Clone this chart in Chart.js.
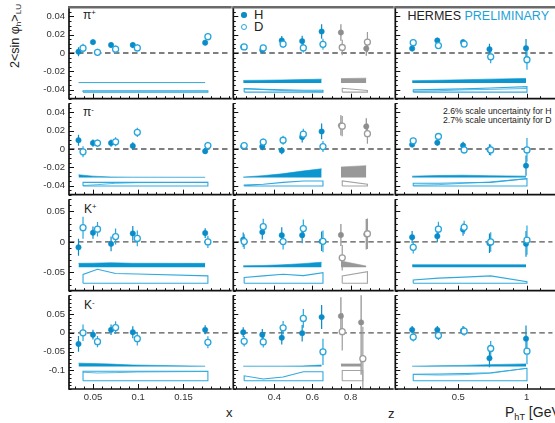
<!DOCTYPE html>
<html>
<head>
<meta charset="utf-8">
<script src="https://cdn.jsdelivr.net/npm/chart.js@4.4.1/dist/chart.umd.min.js"></script>
<style>
  html, body { margin: 0; padding: 0; overflow: hidden; }
  body { width: 555px; height: 423px; position: relative; background: #fff; font-family: "Liberation Sans", Arial, sans-serif; color: #222; }
  .panel { position: absolute; }
  .txt { position: absolute; white-space: nowrap; line-height: normal; }
  .txt sup { font-size: 65%; vertical-align: 0.55em; line-height: 0; }
  .txt sub { font-size: 65%; vertical-align: -0.3em; line-height: 0; }
  .dot { position: absolute; border-radius: 50%; box-sizing: border-box; }
</style>
</head>
<body>
<div class="txt" id="ytitle" style="left:8px; top:68px; font-size:12.5px; transform:rotate(-90deg); transform-origin:0 0;">2&lt;sin φ<sub>h</sub>&gt;<sub>LU</sub></div>

<div class="txt" style="left:83px; top:8px; font-size:12px;">π<sup>+</sup></div>
<div class="txt" style="left:83px; top:105px; font-size:12px;">π<sup>-</sup></div>
<div class="txt" style="left:84px; top:202px; font-size:12px;">K<sup>+</sup></div>
<div class="txt" style="left:84px; top:298px; font-size:12px;">K<sup>-</sup></div>

<div class="dot" style="left:241.3px; top:12.3px; width:5.4px; height:5.4px; background:#0a8cc8;"></div>
<div class="txt" style="left:254px; top:6.5px; font-size:13px;">H</div>
<div class="dot" style="left:241px; top:24.3px; width:6px; height:6px; border:1.3px solid #26a6dd; background:#fff;"></div>
<div class="txt" style="left:254px; top:19px; font-size:13px;">D</div>

<div class="txt" style="left:407.5px; top:9.3px; font-size:12.5px;"><span style="color:#222">HERMES</span> <span style="color:#1ba2d8">PRELIMINARY</span></div>

<div class="txt" style="left:443px; top:107px; font-size:8.7px; line-height:8.6px;">2.6% scale uncertainty for H<br>2.7% scale uncertainty for D</div>

<div class="txt" style="left:226px; top:405px; font-size:13px;">x</div>
<div class="txt" style="left:388px; top:406px; font-size:13px;">z</div>
<div class="txt" style="left:505px; top:404px; font-size:14px;">P<sub>hT</sub> [GeV]</div>

<script>
// axis ticks and ranges
const xTicks = [0.05, 0.1, 0.15];
const zTicks = [0.4, 0.6, 0.8];
const ptTicks = [0.5, 1];
const xRange = [0.0235, 0.2];
const zRange = [0.185, 1.01];
const ptRange = [0.04, 1.19];
const yTicks = [[-0.04, -0.02, 0, 0.02, 0.04], [-0.04, -0.02, 0, 0.02, 0.04], [-0.05, 0, 0.05], [-0.1, -0.05, 0, 0.05]];
const yRange = [[-0.05, 0.05], [-0.05, 0.05], [-0.08, 0.07], [-0.15, 0.1]];
const yMinor = [0.005, 0.005, 0.01, 0.01];

// bin centres (D slightly shifted)
const xPosH = [0.034, 0.050, 0.070, 0.094, 0.174];
const xPosD = [0.039, 0.055, 0.075, 0.099, 0.177];
const zPosH = [0.237, 0.337, 0.439, 0.546, 0.648, 0.749, 0.882];
const zPosD = [0.242, 0.342, 0.446, 0.552, 0.655, 0.756, 0.888];
const zPosKmH = [0.237, 0.337, 0.439, 0.546, 0.648, 0.749, 0.855];
const zPosKmD = [0.242, 0.342, 0.446, 0.552, 0.655, 0.756, 0.864];
const ptPosH = [0.163, 0.347, 0.535, 0.728, 0.995];
const ptPosD = [0.171, 0.355, 0.543, 0.737, 1.002];

// asymmetries, rows: pi+, pi-, K+, K-
const aH_x = [
  [0.0014, 0.0119, 0.0087, 0.0087, 0.0113],
  [0.0096, 0.0065, 0.0065, 0.0034, -0.0024],
  [-0.0088, 0.0152, -0.0031, 0.0140, 0.0146],
  [-0.0298, -0.0052, 0.0078, 0.0016, 0.0078]
];
const eH_x = [
  [0.005, 0.003, 0.003, 0.003, 0.003],
  [0.006, 0.004, 0.004, 0.004, 0.003],
  [0.014, 0.010, 0.012, 0.012, 0.008],
  [0.021, 0.013, 0.014, 0.016, 0.012]
];
const aD_x = [
  [0.0053, 0.0007, 0.0042, 0.0056, 0.0179],
  [-0.0031, 0.0065, 0.0079, 0.0182, 0.0038],
  [0.0234, 0.0209, 0.0089, 0.0058, 0.0000],
  [0.0000, -0.0236, 0.0139, -0.0157, -0.0254]
];
const eD_x = [
  [0.0047, 0.004, 0.004, 0.004, 0.004],
  [0.006, 0.004, 0.005, 0.005, 0.004],
  [0.018, 0.012, 0.013, 0.013, 0.010],
  [0.022, 0.015, 0.017, 0.018, 0.016]
];

const aH_z = [
  [0.0066, 0.0032, 0.0137, 0.0130, 0.0235, 0.0224, 0.0049],
  [0.0027, 0.0027, -0.0017, 0.0131, 0.0192, 0.0258, 0.0247],
  [0.0037, 0.0162, 0.0110, 0.0110, 0.0010, 0.0115, 0.0125],
  [0.0016, -0.0052, -0.0131, -0.0010, 0.0419, 0.0445, 0.0277]
];
const eH_z = [
  [0.003, 0.003, 0.005, 0.006, 0.008, 0.009, 0.008],
  [0.003, 0.004, 0.004, 0.006, 0.0086, 0.011, 0.009],
  [0.012, 0.012, 0.013, 0.013, 0.016, 0.018, 0.025],
  [0.013, 0.015, 0.018, 0.022, 0.032, 0.050, 0.140]
];
const aD_z = [
  [0.0066, 0.0056, 0.0098, 0.0056, 0.0095, 0.0060, 0.0119],
  [0.0038, 0.0076, 0.0096, 0.0162, 0.0027, 0.0250, 0.0168],
  [0.0006, 0.0250, 0.0006, 0.0219, 0.0010, -0.0260, 0.0135],
  [-0.0228, -0.0245, 0.0131, 0.0382, -0.0508, 0.0030, -0.0690]
];
const eD_z = [
  [0.003, 0.003, 0.004, 0.005, 0.006, 0.0085, 0.011],
  [0.003, 0.004, 0.005, 0.006, 0.006, 0.011, 0.011],
  [0.012, 0.013, 0.013, 0.015, 0.018, 0.021, 0.025],
  [0.014, 0.015, 0.018, 0.025, 0.035, 0.050, 0.085]
];

const aH_pt = [
  [0.0049, 0.0137, 0.0119, 0.0042, 0.0053],
  [0.0048, 0.0069, 0.0038, -0.0007, -0.0182],
  [0.0078, 0.0094, 0.0203, -0.0020, -0.0031],
  [0.0078, 0.0078, 0.0060, -0.0680, -0.0157]
];
const eH_pt = [
  [0.003, 0.003, 0.003, 0.006, 0.010],
  [0.003, 0.003, 0.004, 0.006, 0.011],
  [0.010, 0.010, 0.010, 0.016, 0.021],
  [0.010, 0.010, 0.012, 0.024, 0.035]
];
const aD_pt = [
  [0.0113, 0.0081, 0.0098, -0.0042, -0.0074],
  [0.0089, 0.0137, -0.0010, -0.0010, -0.0010],
  [-0.0088, 0.0210, 0.0240, 0.0000, 0.0031],
  [-0.0115, -0.0071, 0.0042, -0.0420, -0.0490]
];
const eD_pt = [
  [0.003, 0.003, 0.003, 0.007, 0.011],
  [0.003, 0.003, 0.004, 0.006, 0.013],
  [0.010, 0.012, 0.011, 0.016, 0.024],
  [0.012, 0.012, 0.012, 0.020, 0.035]
];

// systematic bands: base level per row, band height per bin
const bandBaseH = [-0.0328, -0.0312, -0.0416, -0.090];
const bandBaseD = [-0.0428, -0.0405, -0.0677, -0.1278];
const sysH_x = [
  [0.0004, 0.0004, 0.0004, 0.0004, 0.0004],
  [0.0030, 0.0015, 0.0006, 0.0004, 0.0003],
  [0.0065, 0.0068, 0.0075, 0.0066, 0.0065],
  [0.0090, 0.0080, 0.0065, 0.0040, 0.0010]
];
const sysD_x = [
  [0.0015, 0.0015, 0.0015, 0.0015, 0.0015],
  [0.0040, 0.0040, 0.0040, 0.0040, 0.0040],
  [0.0145, 0.0228, 0.0160, 0.0150, 0.0120],
  [0.0253, 0.0253, 0.0253, 0.0253, 0.0253]
];
const sysDin_x = [null, [0.0005, 0.0015, 0.0030, 0.0037, 0.0040], null, [0.0225, 0.0205, 0.0215, 0.0232, 0.0245]];
const sysH_z = [
  [0.0028, 0.0030, 0.0033, 0.0037, 0.0042, 0.0048, 0.0053],
  [0.0005, 0.0020, 0.0040, 0.0070, 0.0096, 0.0115, 0.0130],
  [0.0025, 0.0030, 0.0040, 0.0060, 0.0083, 0.0105, 0.0020],
  [0.0010, 0.0010, 0.0010, 0.0015, 0.0040, 0.0070, 0.0070]
];
const sysD_z = [
  [0.0038, 0.0030, 0.0025, 0.0020, 0.0020, 0.0042, 0.0017],
  [0.0010, 0.0020, 0.0040, 0.0055, 0.0055, 0.0055, 0.0020],
  [0.0094, 0.0120, 0.0146, 0.0125, 0.0172, 0.0120, 0.0190],
  [0.0130, 0.0044, 0.0100, 0.0240, 0.0240, 0.0270, 0.0270]
];
const sysDin_z = [[0.0038, 0.0028, 0.0018, 0.0010, 0.0005], null, null, null];
const sysH_pt = [
  [0.0025, 0.0030, 0.0035, 0.0042, 0.0050],
  [0.0015, 0.0022, 0.0025, 0.0020, 0.0015],
  [0.0042, 0.0042, 0.0042, 0.0042, 0.0042],
  [0.0010, 0.0020, 0.0030, 0.0050, 0.0070]
];
const sysD_pt = [
  [0.0025, 0.0030, 0.0035, 0.0045, 0.0060],
  [0.0030, 0.0030, 0.0035, 0.0040, 0.0080],
  [0.0052, 0.0083, 0.0099, 0.0120, 0.0026],
  [0.0170, 0.0180, 0.0190, 0.0210, 0.0330]
];
const sysDin_pt = [[0.0008, 0.0015, 0.0025, 0.0030, 0.0040], [0.0008, 0.0015, 0.0030, 0.0045, 0.0080], null, [0.0165, 0.0150, 0.0160, 0.0200, 0.0330]];

const palette = {
  blue: { h: '#0a8cc8', d: '#26a6dd', band: '#0b96cf', bandD: '#2fa9df' },
  gray: { h: '#8e8e8e', d: '#9c9c9c', band: '#989898', bandD: '#a3a3a3' }
};

const vars = [
  { posH: xPosH, posD: xPosD, aH: aH_x, eH: eH_x, aD: aD_x, eD: eD_x, sH: sysH_x, sD: sysD_x, sI: sysDin_x, ticks: xTicks, minor: 0.01, range: xRange },
  { posH: zPosH, posD: zPosD, aH: aH_z, eH: eH_z, aD: aD_z, eD: eD_z, sH: sysH_z, sD: sysD_z, sI: sysDin_z, ticks: zTicks, minor: 0.05, range: zRange },
  { posH: ptPosH, posD: ptPosD, aH: aH_pt, eH: eH_pt, aD: aD_pt, eD: eD_pt, sH: sysH_pt, sD: sysD_pt, sI: sysDin_pt, ticks: ptTicks, minor: 0.1, range: ptRange }
];

const rowTop = [5, 101, 197, 293];
const colLeft = [69, 231, 393];
const PW = 162, PH = 96;

function fmt(v) {
  return Math.abs(v) < 1e-9 ? '0' : String(+v.toFixed(3));
}

const errorBars = {
  id: 'errorBars',
  beforeDatasetsDraw(chart) {
    const { ctx, chartArea: a, scales: { x, y } } = chart;
    ctx.save();
    ctx.beginPath();
    ctx.rect(a.left, a.top, a.right - a.left, a.bottom - a.top);
    ctx.clip();
    // dashed zero line
    const y0 = y.getPixelForValue(0);
    ctx.setLineDash([5.5, 3.5]);
    ctx.strokeStyle = '#555';
    ctx.lineWidth = 1.3;
    ctx.beginPath();
    ctx.moveTo(a.left, y0);
    ctx.lineTo(a.right, y0);
    ctx.stroke();
    ctx.setLineDash([]);
    chart.data.datasets.forEach(ds => {
      if (!ds.errors) return;
      ctx.strokeStyle = ds.borderColor;
      ctx.lineWidth = 1.2;
      ds.data.forEach((p, i) => {
        const px = x.getPixelForValue(p.x);
        ctx.beginPath();
        ctx.moveTo(px, y.getPixelForValue(p.y - ds.errors[i]));
        ctx.lineTo(px, y.getPixelForValue(p.y + ds.errors[i]));
        ctx.stroke();
      });
    });
    ctx.restore();
  }
};

function drawTicks(ctx, scale, major, step, horiz, a) {
  const k0 = Math.ceil(scale.min / step - 1e-6), k1 = Math.floor(scale.max / step + 1e-6);
  for (let k = k0; k <= k1; k++) {
    const v = k * step;
    const isMajor = major.some(m => Math.abs(m - v) < step / 10);
    const len = isMajor ? 5 : 2.5;
    const p = Math.round(scale.getPixelForValue(v)) + 0.5;
    ctx.beginPath();
    if (horiz) { ctx.moveTo(p, a.bottom); ctx.lineTo(p, a.bottom - len); }
    else { ctx.moveTo(a.left, p); ctx.lineTo(a.left + len, p); }
    ctx.stroke();
  }
}

const frame = {
  id: 'frame',
  afterDatasetsDraw(chart, args, opts) {
    const { ctx, chartArea: a, scales: { x, y } } = chart;
    const v = vars[opts.c];
    ctx.save();
    ctx.strokeStyle = '#111';
    ctx.lineWidth = 1;
    drawTicks(ctx, x, v.ticks, v.minor, true, a);
    drawTicks(ctx, y, yTicks[opts.r], yMinor[opts.r], false, a);
    ctx.lineWidth = 1.7;
    ctx.beginPath();
    ctx.moveTo(a.left, a.top);
    ctx.lineTo(a.left, a.bottom);
    ctx.lineTo(a.right + 3, a.bottom);
    ctx.stroke();
    if (opts.r === 0) {
      ctx.strokeStyle = '#6a6a6a';
      ctx.lineWidth = 2.6;
      ctx.beginPath();
      ctx.moveTo(a.left - 1, a.top);
      ctx.lineTo(a.right + 3, a.top);
      ctx.stroke();
    }
    ctx.restore();
  }
};

function makePanel(r, c) {
  const v = vars[c];
  const isKmZ = (r === 3 && c === 1);
  const posH = isKmZ ? zPosKmH : v.posH;
  const posD = isKmZ ? zPosKmD : v.posD;
  const groups = c === 1 ? [[0, 1, 2, 3, 4], [5, 6]] : [[0, 1, 2, 3, 4]];
  const datasets = [];
  groups.forEach((idx, g) => {
    const col = g ? palette.gray : palette.blue;
    const first = idx[0], last = idx[idx.length - 1];
    const bH = bandBaseH[r], bD = bandBaseD[r];
    datasets.push({
      order: 3, fill: { value: bH },
      data: idx.map(i => ({ x: posH[i], y: bH + v.sH[r][i] })),
      backgroundColor: col.band, borderColor: col.band, borderWidth: 0.6, pointRadius: 0
    });
    datasets.push({
      order: 3, fill: false,
      data: [{ x: posD[first], y: bD }]
        .concat(idx.map(i => ({ x: posD[i], y: bD + v.sD[r][i] })))
        .concat([{ x: posD[last], y: bD }, { x: posD[first], y: bD }]),
      borderColor: col.bandD, borderWidth: 1.1, pointRadius: 0
    });
    const inner = v.sI[r];
    if (inner && g === 0) {
      datasets.push({
        order: 3, fill: false,
        data: idx.map(i => ({ x: posD[i], y: bD + inner[i] })),
        borderColor: col.bandD, borderWidth: 0.8, pointRadius: 0
      });
    }
    datasets.push({
      order: 1, showLine: false,
      data: idx.map(i => ({ x: posH[i], y: v.aH[r][i] })),
      errors: idx.map(i => v.eH[r][i]),
      pointRadius: 2.7, pointBackgroundColor: col.h, pointBorderColor: col.h, borderColor: col.h, pointBorderWidth: 0.5
    });
    datasets.push({
      order: 0, showLine: false,
      data: idx.map(i => ({ x: posD[i], y: v.aD[r][i] })),
      errors: idx.map(i => v.eD[r][i]),
      pointRadius: 3, pointBackgroundColor: '#fff', pointBorderColor: col.d, borderColor: col.d, pointBorderWidth: 1.3
    });
  });

  const padL = c === 0 ? 0 : 3;
  const axisW = c === 0 ? 69 : 0;
  const axisH = r === 3 ? 34 : 0;
  const w = axisW + padL + PW + 3;
  const h = 3 + PH + (r === 3 ? axisH : 3);
  const div = document.createElement('div');
  div.className = 'panel';
  div.style.left = (colLeft[c] - axisW - padL) + 'px';
  div.style.top = (rowTop[r] - 3) + 'px';
  const canvas = document.createElement('canvas');
  canvas.width = w;
  canvas.height = h;
  div.appendChild(canvas);
  document.body.appendChild(div);

  const tickFont = { family: 'Liberation Sans', size: 9.5 };
  new Chart(canvas, {
    type: 'line',
    data: { datasets },
    options: {
      responsive: false, animation: false, events: [], devicePixelRatio: 1,
      layout: { padding: { left: padL, right: 3, top: 3, bottom: r === 3 ? 0 : 3 } },
      elements: { line: { tension: 0 } },
      plugins: { legend: { display: false }, tooltip: { enabled: false }, frame: { r, c } },
      scales: {
        x: {
          type: 'linear', min: v.range[0], max: v.range[1], display: r === 3,
          grid: { display: false, drawTicks: false }, border: { display: false },
          ticks: { font: tickFont, color: '#333', padding: 3, autoSkip: false, maxRotation: 0, callback: fmt },
          afterBuildTicks: s => { s.ticks = v.ticks.map(t => ({ value: t })); },
          afterFit: s => { s.height = axisH; s.paddingLeft = 0; s.paddingRight = 0; }
        },
        y: {
          type: 'linear', min: yRange[r][0], max: yRange[r][1], display: c === 0,
          grid: { display: false, drawTicks: false }, border: { display: false },
          ticks: { font: tickFont, color: '#333', padding: 4, autoSkip: false, callback: fmt },
          afterBuildTicks: s => { s.ticks = yTicks[r].map(t => ({ value: t })); },
          afterFit: s => { s.width = axisW; s.paddingTop = 0; s.paddingBottom = 0; }
        }
      }
    },
    plugins: [errorBars, frame]
  });
}

for (let r = 0; r < 4; r++) {
  for (let c = 0; c < 3; c++) makePanel(r, c);
}
</script>
</body>
</html>
